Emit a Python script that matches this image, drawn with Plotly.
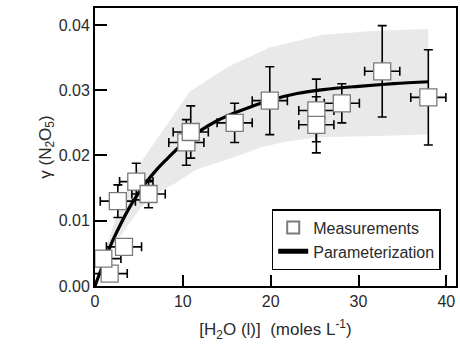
import plotly.graph_objects as go

# Measurements
meas_x = [1.67, 0.95, 3.3, 2.6, 4.7, 6.1, 10.4, 10.9, 15.9, 19.9, 25.2, 25.2, 28.1, 32.7, 37.95]
meas_y = [0.0019, 0.0042, 0.0060, 0.0130, 0.0160, 0.0141, 0.0220, 0.0236, 0.0250, 0.0284, 0.0269, 0.0247, 0.0280, 0.0329, 0.0289]
meas_xerr = [2.0, 2.0, 2.0, 2.0, 1.9, 1.9, 2.0, 2.0, 2.0, 2.0, 2.0, 2.0, 2.0, 2.0, 2.0]
meas_yerr = [0.0008, 0.0012, 0.0010, 0.0025, 0.0028, 0.0021, 0.0035, 0.0040, 0.0030, 0.0052, 0.0048, 0.0043, 0.0030, 0.0070, 0.0073]

# Parameterization curve
param_x = [0, 1, 2, 3, 4, 5, 6, 7, 8, 10, 12, 14, 16, 18, 20, 23, 26, 30, 34, 38]
param_y = [0.0, 0.0036, 0.0069, 0.0097, 0.0122, 0.0143, 0.0162, 0.0178, 0.0192, 0.0218, 0.0238,
           0.0254, 0.0266, 0.0276, 0.0285, 0.0295, 0.0301, 0.0306, 0.0310, 0.0313]

# Uncertainty band
band_up_x = [0, 1.3, 2.4, 3.7, 5.5, 10.8, 15, 19.8, 25.9, 32, 37.95]
band_up_y = [0.0, 0.0060, 0.0106, 0.0150, 0.0195, 0.0298, 0.0335, 0.0365, 0.0385, 0.0391, 0.0394]
band_lo_x = [0, 1.9, 5.3, 7.6, 9.2, 11.5, 13.4, 16.4, 19, 22, 25.5, 32, 37.95]
band_lo_y = [0.0, 0.0058, 0.0122, 0.0147, 0.0158, 0.0178, 0.0187, 0.0200, 0.0213, 0.0222, 0.0228, 0.0230, 0.0232]

x_ticks = [0, 10, 20, 30, 40]
y_ticks = [0.00, 0.01, 0.02, 0.03, 0.04]

FONT = "Liberation Sans, Arial"
TXT = "#2a2a2a"

fig = go.Figure()

fig.add_trace(go.Scatter(
    x=band_up_x + band_lo_x[::-1],
    y=band_up_y + band_lo_y[::-1],
    fill="toself", fillcolor="#e9e9e9", line=dict(width=0, color="#e9e9e9"),
    mode="lines", showlegend=False, hoverinfo="skip"))

fig.add_trace(go.Scatter(
    x=param_x, y=param_y, mode="lines", name="Parameterization", legendrank=2,
    line=dict(color="black", width=3.2, shape="spline"),
))

fig.add_trace(go.Scatter(
    x=meas_x, y=meas_y, mode="markers", name="Measurements", legendrank=1,
    marker=dict(symbol="square", size=17, color="white", line=dict(color="#7a7a7a", width=1.3)),
    error_x=dict(type="data", array=meas_xerr, color="black", thickness=1.6, width=4.5),
    error_y=dict(type="data", array=meas_yerr, color="black", thickness=1.6, width=4.5),
))

axis_common = dict(
    showline=True, linecolor="black", linewidth=2, mirror=True,
    ticks="inside", tickcolor="black", tickwidth=1.6,
    showgrid=False, zeroline=False,
    tickfont=dict(family=FONT, size=16, color=TXT),
)

fig.update_layout(
    width=460, height=350,
    margin=dict(l=95, r=2, t=8, b=64),
    paper_bgcolor="white", plot_bgcolor="white",
    font=dict(family=FONT, size=16, color=TXT),
    xaxis=dict(range=[0, 41.1], tickvals=x_ticks, ticklen=11,
               title=dict(text="[H<sub>2</sub>O (l)]&nbsp;&nbsp;(moles L<sup>-1</sup>)",
                          font=dict(size=17, color=TXT), standoff=14),
               **axis_common),
    yaxis=dict(range=[0, 0.0426], tickvals=y_ticks, tickformat=".2f", ticklen=12,
               title=dict(text="γ (N<sub>2</sub>O<sub>5</sub>)",
                          font=dict(size=17, color=TXT), standoff=3),
               **axis_common),
    legend=dict(x=0.4895, y=0.167, xanchor="left", yanchor="middle",
                bordercolor="black", borderwidth=1.5, bgcolor="white",
                font=dict(size=16, color=TXT), tracegroupgap=0,
                traceorder="normal", itemsizing="constant"),
)

fig.write_html("out.html")
